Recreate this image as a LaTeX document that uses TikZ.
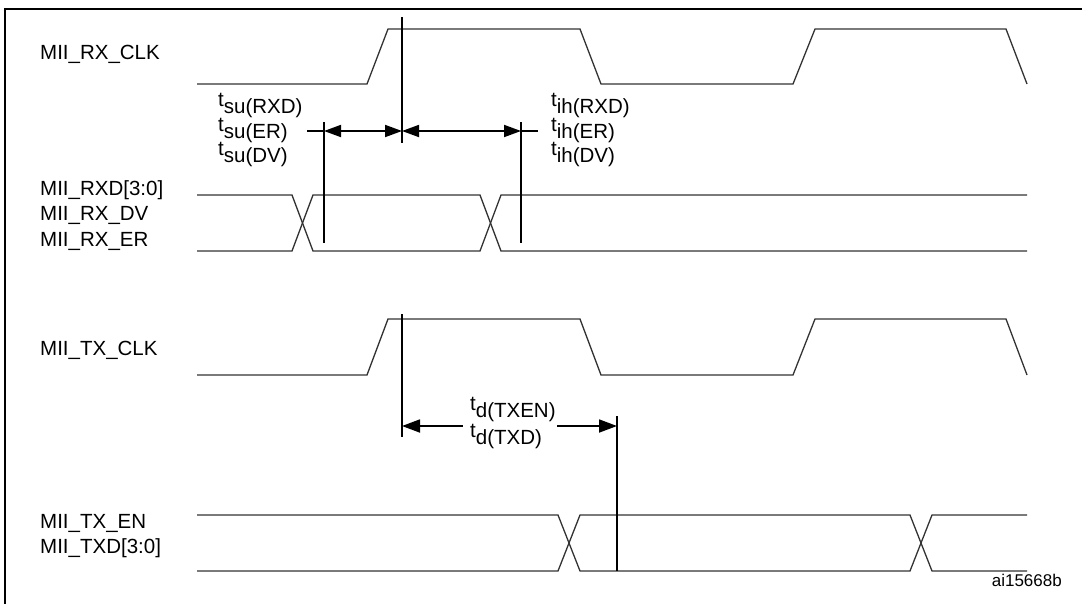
\documentclass[tikz,border=0pt]{standalone}
\usepackage{fontspec}
\setmainfont{Liberation Sans}
\usetikzlibrary{arrows.meta}
\newcommand\tlab[1]{t\raisebox{-7pt}{#1}}
\begin{document}
\begin{tikzpicture}[x=1pt,y=-1pt,
  wave/.style={line width=1.3pt, draw=black!80, line join=miter},
  vline/.style={line width=1.8pt, draw=black},
  dimline/.style={line width=1.8pt, draw=black},
  lbl/.style={anchor=base west, inner sep=0pt, font=\fontsize{20.5}{24}\selectfont},
  frame/.style={line width=2.5pt, draw=black}]
\useasboundingbox (0,0) rectangle (1082,603);
\clip (0,0) rectangle (1082,603);
\fill[white] (0,0) rectangle (1082,603);
\draw[frame] (5,620) -- (5,9) -- (1100,9);

% signal labels
\node[lbl] (lrxclk) at (40,59.5) {MII\_RX\_CLK};
\node[lbl] (lrxd) at (40,195.5) {MII\_RXD[3:0]};
\node[lbl] (lrxdv) at (40,220.5) {MII\_RX\_DV};
\node[lbl] (lrxer) at (40,246.5) {MII\_RX\_ER};
\node[lbl] (ltxclk) at (40,355.5) {MII\_TX\_CLK};
\node[lbl] (ltxen) at (40,528) {MII\_TX\_EN};
\node[lbl] (ltxd) at (40,553) {MII\_TXD[3:0]};

% RX clock
\draw[wave] (197,84) -- (367,84) -- (388,29) -- (580,29) -- (601,84) -- (793,84) -- (815,29) -- (1006,29) -- (1027,84);
% RX data
\draw[wave] (197,195) -- (292,195) -- (313,251) -- (480,251) -- (501,195) -- (1027,195);
\draw[wave] (197,251) -- (292,251) -- (313,195) -- (480,195) -- (501,251) -- (1027,251);
% TX clock
\draw[wave] (197,375) -- (367,375) -- (388,319) -- (580,319) -- (601,375) -- (793,375) -- (815,319) -- (1006,319) -- (1027,375);
% TX data
\draw[wave] (197,515) -- (558,515) -- (580,571) -- (910,571) -- (932,515) -- (1027,515);
\draw[wave] (197,571) -- (558,571) -- (580,515) -- (910,515) -- (932,571) -- (1027,571);

% reference verticals
\coordinate (rxe1) at (402,17);  \coordinate (rxe2) at (402,143);
\coordinate (su1) at (324,122);  \coordinate (su2) at (324,243);
\coordinate (ih1) at (521,122);  \coordinate (ih2) at (521,243);
\coordinate (txe1) at (402,314); \coordinate (txe2) at (402,437);
\coordinate (td1) at (617,416);  \coordinate (td2) at (617,571);
\draw[vline] (rxe1) -- (rxe2);
\draw[vline] (su1) -- (su2);
\draw[vline] (ih1) -- (ih2);
\draw[vline] (txe1) -- (txe2);
\draw[vline] (td1) -- (td2);

% setup / hold arrows
\coordinate (sua) at (324,131); \coordinate (rxa) at (402,131); \coordinate (iha) at (521,131);
\coordinate (suext) at (307,131); \coordinate (ihext) at (538,131);
\draw[dimline] (suext) -- (sua);
\draw[dimline,{Triangle[length=17pt,width=12pt]}-{Triangle[length=17pt,width=12pt]}] (sua) -- (rxa);
\draw[dimline,{Triangle[length=17pt,width=12pt]}-{Triangle[length=17pt,width=12pt]}] (rxa) -- (iha);
\draw[dimline] (iha) -- (ihext);

% td arrow
\coordinate (tda) at (402,426); \coordinate (tdg1) at (463,426);
\coordinate (tdg2) at (557,426); \coordinate (tdb) at (617,426);
\draw[dimline,{Triangle[length=18pt,width=13pt]}-] (tda) -- (tdg1);
\draw[dimline,-{Triangle[length=18pt,width=13pt]}] (tdg2) -- (tdb);

% timing labels
\node[lbl] (su-rxd) at (218,106) {\tlab{su(RXD)}};
\node[lbl] (su-er) at (218,131) {\tlab{su(ER)}};
\node[lbl] (su-dv) at (218,155) {\tlab{su(DV)}};
\node[lbl] (ih-rxd) at (551,106) {\tlab{ih(RXD)}};
\node[lbl] (ih-er) at (551,131) {\tlab{ih(ER)}};
\node[lbl] (ih-dv) at (551,155) {\tlab{ih(DV)}};
\node[lbl] (td-txen) at (470,410) {\tlab{d(TXEN)}};
\node[lbl] (td-txd) at (470,437) {\tlab{d(TXD)}};

\node[anchor=east, inner sep=0pt, font=\fontsize{17}{20}\selectfont] (ref) at (1062,580) {ai15668b};
\end{tikzpicture}
\end{document}
